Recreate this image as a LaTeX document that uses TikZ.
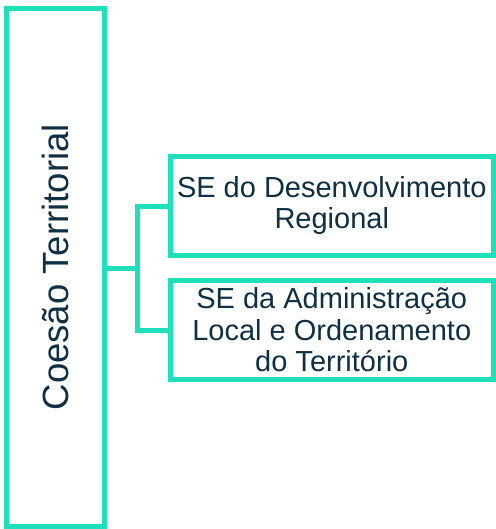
\documentclass[tikz,border=0pt]{standalone}
\usepackage{fontspec}
\setmainfont{Liberation Sans}
\definecolor{teal1}{HTML}{1FE0BA}
\definecolor{navy1}{HTML}{0E2F44}
\begin{document}
\begin{tikzpicture}[x=1pt,y=-1pt,
  boxst/.style={draw=teal1,line width=5pt,rectangle,inner sep=0pt,text=navy1,align=center},
  conn/.style={draw=teal1,line width=5pt,line cap=rect}]
\useasboundingbox (0,0) rectangle (495,529);
\node[boxst,minimum width=98pt,minimum height=517.5pt] (left) at (55,267.25)
  {\rotatebox{90}{\fontsize{36.5}{40}\selectfont Coesão Territorial}};
\node[boxst,minimum width=322.5pt,minimum height=99pt,font=\fontsize{29}{31}\selectfont] (b1) at (331.75,206)
  {SE do Desenvolvimento\\Regional};
\node[boxst,minimum width=322.5pt,minimum height=99pt,font=\fontsize{29}{31.5}\selectfont] (b2) at (331.75,330)
  {SE da Administração\\Local e Ordenamento\\do Território};
\coordinate (jx) at (137.5,268.5);
\draw[conn] (left.east |- jx) -- (jx);
\draw[conn] (b1.west) -- (b1.west -| jx) -- (b2.west -| jx) -- (b2.west);
\end{tikzpicture}
\end{document}
